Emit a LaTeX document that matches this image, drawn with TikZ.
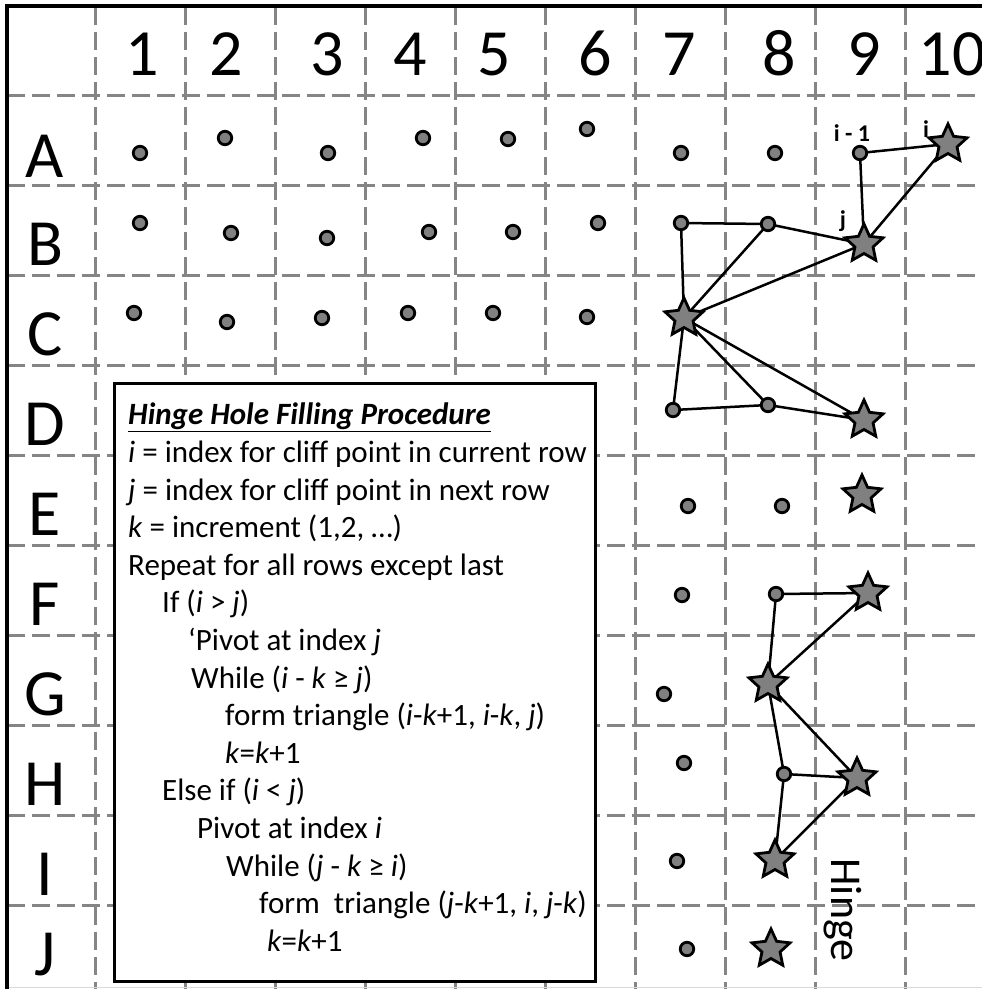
\documentclass[tikz,border=0pt]{standalone}
\usepackage{fontspec}
\setmainfont{Carlito}
\usetikzlibrary{shapes.geometric}
\definecolor{gridgray}{HTML}{858585}
\definecolor{markgray}{HTML}{808080}
\pgfdeclarelayer{back}
\pgfsetlayers{back,main}

\begin{document}
\begin{tikzpicture}[
    x=1pt, y=-1pt,
    gridline/.style={gridgray, line width=3pt, dash pattern=on 18pt off 7pt},
    cliffdot/.style={circle, fill=markgray, draw=black, line width=2.8pt, minimum size=13.5pt, inner sep=0pt},
    cliffstar/.style={star, star points=5, star point ratio=2.1, fill=markgray, draw=black, line width=2.8pt, minimum size=40pt, inner sep=0pt},
    edge/.style={black, line width=2.5pt},
    headlabel/.style={font=\fontsize{66}{66}\selectfont, anchor=base, inner sep=0pt},
    idxlabel/.style={font=\fontsize{24}{24}\selectfont\bfseries, inner sep=0pt},
    procbox/.style={draw=black, line width=3pt, fill=white, inner sep=0pt}
]
\useasboundingbox (0,0) rectangle (982,989);

% Grid
\begin{pgfonlayer}{back}
\foreach \k in {0,...,9} {
  \draw[gridline] ({95+90*\k},7) -- ({95+90*\k},989);
  \draw[gridline] (7,{95+90*\k}) -- (982,{95+90*\k});
}
\end{pgfonlayer}

% Frame
\draw[black, line width=3.5pt] (7,989) -- (7,6) -- (982,6);
\draw[black!15, line width=1pt] (9,987) -- (982,987);

% Column and row headers
\foreach \c/\x in {1/142,2/226,3/327,4/410,5/494,6/595,7/679,8/779,9/864,10/952}
  \node[headlabel] (col\c) at (\x,75) {\c};
\foreach \r/\y in {A/177,B/265,C/355,D/445,E/535,F/625,G/715,H/805,I/895,J/975}
  \node[headlabel] (row\r) at (45,\y) {\r};

% Points
\foreach \n/\x/\y in {A1/140/153,A2/225/138,A3/328/153,A4/423/138,A5/508/139,A6/587/129,A7/681/153,A8/775/153,A9/860/153,
                      B1/140/223,B2/231/233,B3/327/238,B4/429/232,B5/513/232,B6/598/223,B7/681/223,B8/768/224,
                      C1/134/313,C2/227/322,C3/322/318,C4/408/313,C5/493/313,C6/587/317,
                      D7/673/410,D8/768/405,E7/688/506,E8/782/506,F7/682/595,F8/776/594,
                      G7/664/694,H7/684/763,H8/784/774,I7/677/861,J7/687/949}
  \node[cliffdot] (\n) at (\x,\y) {};

% Cliff points
\foreach \n/\x/\y in {A10/948/144,B9/864/244,C7/684/318,D9/864/420,E9/862/495,F9/868/593,
                      G8/768/684,H9/857/778,I8/775/860,J8/771/949}
  \node[cliffstar] (\n) at (\x,\y) {};

% Triangles
\begin{pgfonlayer}{back}
\foreach \a/\b in {A9/A10,A9/B9,A10/B9,B7/B8,B8/B9,B7/C7,B8/C7,C7/B9,
                   C7/D7,C7/D8,C7/D9,D7/D8,D8/D9,F8/F9,F8/G8,F9/G8,
                   G8/H8,G8/H9,H8/H9,H8/I8,H9/I8}
  \draw[edge] (\a.center) -- (\b.center);
\end{pgfonlayer}

% Index labels
\node[idxlabel] (lblim) at (852,133) {i\ -\ 1};
\node[idxlabel] (lbli) at (926,129) {i};
\node[idxlabel] (lblj) at (843,221) {j};
\node[font=\fontsize{44}{44}\selectfont, rotate=-90, inner sep=0pt] (hinge) at (843,910) {Hinge};

% Procedure box
\node[procbox, anchor=north west, minimum width=481pt, minimum height=598pt] (box) at (113,382) {};
\node[anchor=north west, align=left, inner sep=0pt, font=\fontsize{31}{37.6}\selectfont] (steps) at (128,403) {
  \underline{\textbf{\textit{Hinge Hole Filling Procedure}}}\\
  \textit{i} = index for cliff point in current row\\
  \textit{j} = index for cliff point in next row\\
  \textit{k} = increment (1,2, …)\\
  Repeat for all rows except last\\
  \hspace*{34pt}If (\textit{i} > \textit{j})\\
  \hspace*{60pt}‘Pivot at index \textit{j}\\
  \hspace*{63pt}While (\textit{i} - \textit{k} ≥ \textit{j})\\
  \hspace*{97pt}form triangle (\textit{i}-\textit{k}+1, \textit{i}-\textit{k}, \textit{j})\\
  \hspace*{97pt}\textit{k}=\textit{k}+1\\
  \hspace*{34pt}Else if (\textit{i} < \textit{j})\\
  \hspace*{69pt}Pivot at index \textit{i}\\
  \hspace*{98pt}While (\textit{j} - \textit{k} ≥ \textit{i})\\
  \hspace*{131pt}form\ \ triangle (\textit{j}-\textit{k}+1, \textit{i}, \textit{j}-\textit{k})\\
  \hspace*{139pt}\textit{k}=\textit{k}+1
};

\end{tikzpicture}
\end{document}
